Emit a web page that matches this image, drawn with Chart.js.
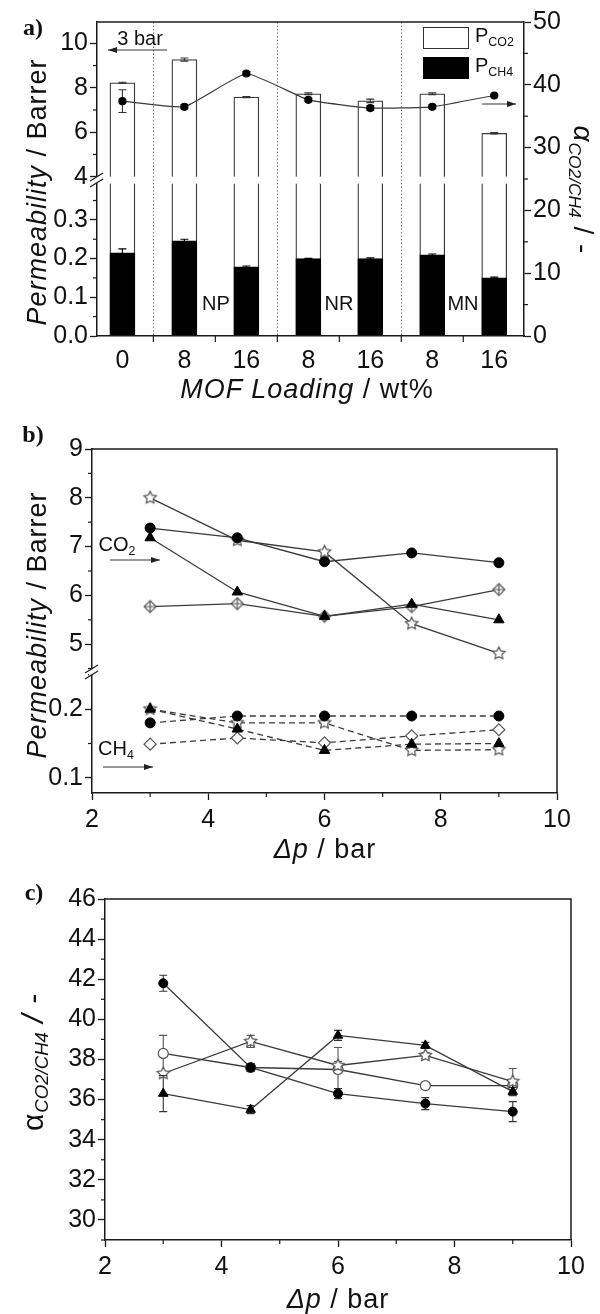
<!DOCTYPE html>
<html>
<head>
<meta charset="utf-8">
<script src="https://cdn.jsdelivr.net/npm/chart.js@4.4.1/dist/chart.umd.min.js"></script>
<style>
  body { margin: 0; background: #fff; }
  #fig { position: relative; width: 600px; height: 1314px; overflow: hidden;
         font-family: "Liberation Sans", Arial, Helvetica, sans-serif; color: #111; }
  canvas { position: absolute; left: 0; }
  svg { position: absolute; left: 0; top: 0; }
  .t { position: absolute; white-space: nowrap; line-height: 1; transform: translate(-50%, -50%); }
  .l { position: absolute; white-space: nowrap; line-height: 1; transform: translate(0, -50%); }
  .up { transform: translate(-50%, -50%) rotate(-90deg); }
  .down { transform: translate(-50%, -50%) rotate(90deg); }
  .title { font-size: 27px; letter-spacing: 1px; }
  .big { font-size: 30px; }
  .note { font-size: 20px; }
  .panel { font-family: "Liberation Serif", "Times New Roman", serif; font-weight: bold; font-size: 24px; }
  sub { font-size: 62%; vertical-align: -0.3em; letter-spacing: 0; }
</style>
</head>
<body>
<div id="fig">
  <canvas id="chartA" width="600" height="410" style="top:0"></canvas>
  <canvas id="chartB" width="600" height="460" style="top:410px"></canvas>
  <canvas id="chartC" width="600" height="444" style="top:870px"></canvas>

  <svg width="600" height="1314">
    <defs>
      <marker id="ah" markerWidth="9" markerHeight="6" refX="9" refY="3" orient="auto" markerUnits="userSpaceOnUse">
        <path d="M0,0 L9,3 L0,6 z" fill="#222"/>
      </marker>
    </defs>
    <line x1="167" y1="50" x2="108" y2="50" stroke="#333" stroke-width="1" marker-end="url(#ah)"/>
    <line x1="482" y1="104" x2="516" y2="104" stroke="#333" stroke-width="1" marker-end="url(#ah)"/>
    <line x1="110" y1="560" x2="160" y2="560" stroke="#333" stroke-width="1" marker-end="url(#ah)"/>
    <line x1="103" y1="767" x2="153" y2="767" stroke="#333" stroke-width="1" marker-end="url(#ah)"/>
    <rect x="423.5" y="27.5" width="45" height="21" fill="#fff" stroke="#333" stroke-width="1"/>
    <rect x="423" y="57" width="46" height="22" fill="#000"/>
  </svg>

  <div class="t panel" style="left:33px; top:27px">a)</div>
  <div class="t title up" style="left:37px; top:192px"><i>Permeability</i> / Barrer</div>
  <div class="t title" style="left:307px; top:389px"><i>MOF Loading</i> / wt%</div>
  <div class="t title down" style="left:581px; top:190px; font-size:28px"><i>α</i><sub><i>CO2/CH4</i></sub> / -</div>
  <div class="t note" style="left:140px; top:38px">3 bar</div>
  <div class="t note" style="left:216px; top:303px">NP</div>
  <div class="t note" style="left:339px; top:303px">NR</div>
  <div class="t note" style="left:463px; top:303px">MN</div>
  <div class="l note" style="left:475px; top:37px">P<sub>CO2</sub></div>
  <div class="l note" style="left:475px; top:67px">P<sub>CH4</sub></div>

  <div class="t panel" style="left:33px; top:434px">b)</div>
  <div class="t title up" style="left:37px; top:625px"><i>Permeability</i> / Barrer</div>
  <div class="t title" style="left:325px; top:849px"><i>Δp</i> / bar</div>
  <div class="t note" style="left:117px; top:546px">CO<sub>2</sub></div>
  <div class="t note" style="left:116px; top:750px">CH<sub>4</sub></div>

  <div class="t panel" style="left:34px; top:892px">c)</div>
  <div class="t title big up" style="left:35px; top:1062px">α<sub><i>CO2/CH4</i></sub> <i>/ -</i></div>
  <div class="t title" style="left:338px; top:1299px"><i>Δp</i> / bar</div>
</div>

<script>
// ---- panel a: permeability and selectivity vs MOF loading (3 bar)
const loadings = ['0', '8', '16', '8', '16', '8', '16'];
const mofTypes = ['', 'NP', 'NP', 'NR', 'NR', 'MN', 'MN'];
const pCO2 = [8.22, 9.27, 7.58, 7.73, 7.41, 7.73, 5.95];
const pCO2Err = [0.03, 0.07, 0.03, 0.04, 0.08, 0.04, 0.03];
const pCH4 = [0.215, 0.246, 0.179, 0.200, 0.200, 0.210, 0.150];
const pCH4Err = [0.010, 0.004, 0.002, 0.001, 0.002, 0.002, 0.002];
const selA = [37.4, 36.5, 41.8, 37.6, 36.3, 36.5, 38.3];
const selAErr = [1.8, 0.3, 0.3, 0.3, 0.4, 0.3, 0.2];
const ticksAUpper = [4, 6, 8, 10];
const ticksALower = [0, 0.1, 0.2, 0.3];
const ticksARight = [0, 10, 20, 30, 40, 50];

// ---- panels b and c: vs pressure difference
const dp = [3, 4.5, 6, 7.5, 9];
const co2Circle = [7.38, 7.18, 6.69, 6.87, 6.67];
const co2Triangle = [7.18, 6.07, 5.57, 5.82, 5.50];
const co2Star = [8.00, 7.13, 6.89, 5.42, 4.81];
const co2Diamond = [5.77, 5.83, 5.57, 5.77, 6.12];
const ch4Circle = [0.180, 0.190, 0.190, 0.190, 0.190];
const ch4Triangle = [0.200, 0.171, 0.140, 0.149, 0.150];
const ch4Star = [0.200, 0.180, 0.180, 0.140, 0.141];
const ch4Diamond = [0.149, 0.158, 0.151, 0.161, 0.170];
const selCircle = [41.8, 37.6, 36.3, 35.8, 35.4];
const selCircleErr = [0.4, 0.2, 0.25, 0.3, 0.5];
const selTriangle = [36.3, 35.5, 39.2, 38.7, 36.4];
const selTriangleErr = [0.9, 0.2, 0.25, 0.15, 0.2];
const selStar = [37.3, 38.9, 37.7, 38.2, 36.9];
const selStarErr = [0.1, 0.3, 0.2, 0.15, 0.65];
const selOpen = [38.3, 37.6, 37.5, 36.7, 36.7];
const selOpenErr = [0.9, 0.2, 1.1, 0.1, 0.2];
const ticksBUpper = [5, 6, 7, 8, 9];
const ticksBLower = [0.1, 0.2];
const ticksDp = [2, 4, 6, 8, 10];
const ticksSel = [30, 32, 34, 36, 38, 40, 42, 44, 46];

const INK = '#1a1a1a';
const LINE = '#3a3a3a';
const OPEN = '#555';

Chart.defaults.font.family = '"Liberation Sans", Arial, Helvetica, sans-serif';
Chart.defaults.font.size = 25;
Chart.defaults.color = '#111';
Chart.defaults.animation = false;
Chart.defaults.plugins.legend.display = false;
Chart.defaults.plugins.tooltip.enabled = false;

// open markers drawn once into small canvases
function marker(kind, size) {
  const c = document.createElement('canvas');
  const s = size + 4;
  c.width = s; c.height = s;
  const g = c.getContext('2d');
  g.translate(s / 2, s / 2);
  g.lineWidth = 1.2;
  g.strokeStyle = OPEN;
  g.fillStyle = '#fff';
  const r = size / 2;
  g.beginPath();
  if (kind === 'star') {
    for (let k = 0; k < 10; k++) {
      const rr = k % 2 ? r * 0.5 : r;
      const a = -Math.PI / 2 + k * Math.PI / 5;
      g.lineTo(rr * Math.cos(a), rr * Math.sin(a));
    }
    g.closePath();
  } else {
    g.moveTo(0, -r); g.lineTo(r, 0); g.lineTo(0, r); g.lineTo(-r, 0); g.closePath();
  }
  g.fill(); g.stroke();
  if (kind === 'crossDiamond') {
    g.beginPath();
    g.moveTo(0, -r); g.lineTo(0, r); g.moveTo(-r, 0); g.lineTo(r, 0);
    g.stroke();
  }
  return c;
}
const starMark = marker('star', 13);
const crossDiamondMark = marker('crossDiamond', 12);

// vertical error bars, read through the dataset's own scales
const errorBars = {
  id: 'errorBars',
  beforeDatasetDraw(chart, args) {
    if (chart.getDatasetMeta(args.index).type !== 'bar') drawErr(chart, args.index);
  },
  afterDatasetDraw(chart, args) {
    if (chart.getDatasetMeta(args.index).type === 'bar') drawErr(chart, args.index);
  }
};
function drawErr(chart, index) {
  const ds = chart.data.datasets[index];
  if (!ds.errors) return;
  const meta = chart.getDatasetMeta(index);
  const ctx = chart.ctx;
  ctx.save();
  ctx.strokeStyle = ds.errorColor || '#333';
  ctx.lineWidth = 1.1;
  meta.data.forEach((el, j) => {
    const p = meta.controller.getParsed(j);
    const e = ds.errors[j];
    const px = meta.xScale.getPixelForValue(p.x);
    const y1 = meta.yScale.getPixelForValue(p.y + e);
    const y2 = meta.yScale.getPixelForValue(p.y - e);
    ctx.beginPath();
    ctx.moveTo(px, y1); ctx.lineTo(px, y2);
    ctx.moveTo(px - 4, y1); ctx.lineTo(px + 4, y1);
    ctx.moveTo(px - 4, y2); ctx.lineTo(px + 4, y2);
    ctx.stroke();
  });
  ctx.restore();
}

// frame, minor ticks and axis break
function frame(opts) {
  return {
    id: 'frame',
    afterDraw(chart) {
      const {ctx, chartArea: a, scales} = chart;
      ctx.save();
      ctx.strokeStyle = INK;
      ctx.lineWidth = 1.5;
      ctx.beginPath();
      ctx.moveTo(a.left, a.top); ctx.lineTo(a.right, a.top);
      if (opts.right) ctx.lineTo(a.right, a.bottom);
      ctx.stroke();
      ctx.lineWidth = 1.2;
      opts.minor.forEach(m => {
        const s = scales[m.id];
        for (let v = m.from; v <= s.max + 1e-9; v += m.step) {
          if (v < s.min - 1e-9) continue;
          const p = s.getPixelForValue(v);
          ctx.beginPath();
          if (s.position === 'left') { ctx.moveTo(s.right - m.len, p); ctx.lineTo(s.right, p); }
          else if (s.position === 'right') { ctx.moveTo(s.left, p); ctx.lineTo(s.left + m.len, p); }
          else { ctx.moveTo(p, s.top); ctx.lineTo(p, s.top + m.len); }
          ctx.stroke();
        }
      });
      if (opts.breakAt) {
        const y = scales[opts.breakAt].bottom;
        const x = a.left;
        ctx.fillStyle = '#fff';
        ctx.fillRect(x - 3, y - 3, 6, 6);
        ctx.beginPath();
        ctx.moveTo(x - 7, y + 1); ctx.lineTo(x + 6, y - 7);
        ctx.moveTo(x - 7, y + 7); ctx.lineTo(x + 6, y - 1);
        ctx.stroke();
      }
      ctx.restore();
    }
  };
}

// dotted separators between MOF types
const groupLines = {
  id: 'groupLines',
  beforeDatasetsDraw(chart) {
    const {ctx, chartArea: a, scales: {x}} = chart;
    ctx.save();
    ctx.strokeStyle = '#777';
    ctx.lineWidth = 1;
    ctx.setLineDash([1.5, 2]);
    for (let i = 1; i < mofTypes.length; i++) {
      if (mofTypes[i] === mofTypes[i - 1]) continue;
      const px = Math.round(x.getPixelForValue(i + 0.5)) + 0.5;
      ctx.beginPath(); ctx.moveTo(px, a.top); ctx.lineTo(px, a.bottom); ctx.stroke();
    }
    ctx.restore();
  }
};

function yAxis(o) {
  return {
    type: 'linear',
    position: o.position || 'left',
    stack: o.stack,
    stackWeight: o.weight,
    min: o.min,
    max: o.max,
    afterBuildTicks: s => { s.ticks = o.ticks.map(v => ({value: v})); },
    afterFit: s => { s.width = o.width; },
    grid: { drawOnChartArea: false, drawTicks: true, tickLength: 7, tickColor: INK, tickWidth: 1.3 },
    border: { color: INK, width: 1.5 },
    ticks: { padding: 2, color: '#111', autoSkip: false, callback: o.fmt || (v => String(v)) }
  };
}
function xAxis(o) {
  return {
    type: 'linear',
    min: o.min,
    max: o.max,
    offset: false,
    afterBuildTicks: s => { s.ticks = o.ticks.map(v => ({value: v})); },
    afterFit: s => { s.height = o.height; },
    grid: { display: o.drawTicks, drawOnChartArea: false, drawTicks: o.drawTicks, tickLength: 7, tickColor: INK, tickWidth: 1.3, offset: false },
    border: { color: INK, width: 1.5 },
    ticks: { padding: o.padding, color: '#111', autoSkip: false, maxRotation: 0, callback: o.fmt || (v => String(v)) }
  };
}

// ---------- panel a
const xA = loadings.map((_, i) => i + 1);
const UPPER_START_A = 4;
const LOWER_CAP_A = 0.394;
new Chart(document.getElementById('chartA'), {
  type: 'bar',
  data: {
    datasets: [
      { type: 'line', yAxisID: 'yR', data: xA.map((x, i) => ({x, y: selA[i]})), errors: selAErr,
        borderColor: LINE, borderWidth: 1.2, tension: 0.12, pointRadius: 3.5,
        pointBackgroundColor: '#000', pointBorderColor: '#000' },
      { yAxisID: 'yL', data: xA.map((x, i) => ({x, y: pCH4[i]})), errors: pCH4Err, errorColor: '#000',
        backgroundColor: '#000', borderColor: '#000', borderWidth: 1, grouped: false, barThickness: 25 },
      { yAxisID: 'yL', data: xA.map((x, i) => ({x, y: [0, Math.min(pCO2[i], LOWER_CAP_A)]})),
        backgroundColor: '#fff', borderColor: LINE, borderWidth: 1.3, borderSkipped: 'top',
        grouped: false, barThickness: 25 },
      { yAxisID: 'yU', data: xA.map((x, i) => ({x, y: [UPPER_START_A, pCO2[i]]})), errors: pCO2Err,
        backgroundColor: '#fff', borderColor: LINE, borderWidth: 1.3, borderSkipped: 'bottom',
        grouped: false, barThickness: 25 }
    ]
  },
  options: {
    responsive: false,
    layout: { padding: { top: 22, left: 0, right: 0, bottom: 0 } },
    scales: {
      x: xAxis({ min: 0.59, max: 7.48, ticks: xA, height: 74, padding: 10, drawTicks: false,
                 fmt: v => loadings[Math.round(v) - 1] }),
      yL: yAxis({ stack: 'left', weight: 156, min: 0, max: 0.403, ticks: ticksALower, width: 97,
                  fmt: v => v.toFixed(1) }),
      yU: yAxis({ stack: 'left', weight: 158, min: 3.85, max: 10.96, ticks: ticksAUpper, width: 97 }),
      yR: yAxis({ position: 'right', min: 0, max: 50, ticks: ticksARight, width: 76 })
    }
  },
  plugins: [groupLines, errorBars, frame({
    right: false, breakAt: 'yU',
    minor: [
      { id: 'yU', from: 5, step: 2, len: 4 },
      { id: 'yL', from: 0.05, step: 0.1, len: 4 },
      { id: 'yR', from: 5, step: 10, len: 4 },
      { id: 'x', from: 1.5, step: 1, len: 6 }
    ]
  })]
});

// ---------- panel b
function series(values, yAxisID, style, opts = {}) {
  return Object.assign({
    yAxisID,
    data: dp.map((x, i) => ({x, y: values[i]})),
    borderColor: LINE,
    borderWidth: 1.3,
    tension: 0,
    pointStyle: style,
    pointRadius: 5,
    pointBackgroundColor: '#000',
    pointBorderColor: '#000',
    pointBorderWidth: 1
  }, opts);
}
const dash = { borderDash: [6, 4] };
const openPt = { pointBackgroundColor: '#fff', pointBorderColor: OPEN, pointBorderWidth: 1.2 };
new Chart(document.getElementById('chartB'), {
  type: 'line',
  data: {
    datasets: [
      series(co2Circle, 'yU', 'circle'),
      series(co2Triangle, 'yU', 'triangle', { pointRadius: 6 }),
      series(co2Star, 'yU', starMark),
      series(co2Diamond, 'yU', crossDiamondMark),
      series(ch4Circle, 'yL', 'circle', dash),
      series(ch4Triangle, 'yL', 'triangle', Object.assign({ pointRadius: 6 }, dash)),
      series(ch4Star, 'yL', starMark, dash),
      series(ch4Diamond, 'yL', 'rectRot', Object.assign({ pointRadius: 6 }, openPt, dash))
    ]
  },
  options: {
    responsive: false,
    layout: { padding: { top: 39, left: 0, right: 43, bottom: 0 } },
    scales: {
      x: xAxis({ min: 2, max: 10, ticks: ticksDp, height: 77, padding: 5, drawTicks: true }),
      yL: yAxis({ stack: 'left', weight: 121, min: 0.078, max: 0.254, ticks: ticksBLower, width: 92,
                  fmt: v => v.toFixed(1) }),
      yU: yAxis({ stack: 'left', weight: 223, min: 4.43, max: 9, ticks: ticksBUpper, width: 92 })
    }
  },
  plugins: [frame({
    right: true, breakAt: 'yU',
    minor: [
      { id: 'yU', from: 4.5, step: 1, len: 4 },
      { id: 'yL', from: 0.15, step: 0.1, len: 4 },
      { id: 'x', from: 3, step: 2, len: 4 }
    ]
  })]
});

// ---------- panel c
new Chart(document.getElementById('chartC'), {
  type: 'line',
  data: {
    datasets: [
      series(selCircle, 'y', 'circle', { errors: selCircleErr, pointRadius: 4.5 }),
      series(selTriangle, 'y', 'triangle', { errors: selTriangleErr, pointRadius: 5.5 }),
      series(selStar, 'y', starMark, { errors: selStarErr, errorColor: OPEN }),
      series(selOpen, 'y', 'circle', Object.assign({ errors: selOpenErr, errorColor: OPEN, pointRadius: 5 }, openPt))
    ]
  },
  options: {
    responsive: false,
    layout: { padding: { top: 29, left: 0, right: 29, bottom: 0 } },
    scales: {
      x: xAxis({ min: 2, max: 10, ticks: ticksDp, height: 74, padding: 5, drawTicks: true }),
      y: yAxis({ min: 29, max: 46, ticks: ticksSel, width: 105 })
    }
  },
  plugins: [errorBars, frame({
    right: true,
    minor: [
      { id: 'y', from: 29, step: 2, len: 4 },
      { id: 'x', from: 3, step: 2, len: 4 }
    ]
  })]
});
</script>
</body>
</html>
